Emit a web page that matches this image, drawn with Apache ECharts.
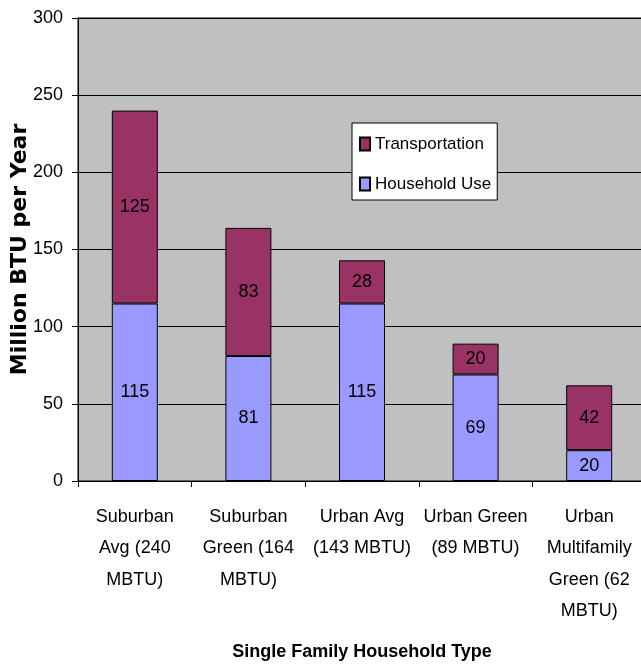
<!DOCTYPE html>
<html>
<head>
<meta charset="utf-8">
<script src="https://cdn.jsdelivr.net/npm/echarts@6/dist/echarts.min.js"></script>
<style>
  html, body { margin: 0; padding: 0; background: #fff; }
  #chart { width: 641px; height: 668px; }
</style>
</head>
<body>
<div id="chart"></div>
<script>
// Household energy use by household type (million BTU per year)
const categories = [
  'Suburban\nAvg (240\nMBTU)',
  'Suburban\nGreen (164\nMBTU)',
  'Urban Avg\n(143 MBTU)',
  'Urban Green\n(89 MBTU)',
  'Urban\nMultifamily\nGreen (62\nMBTU)'
];
const householdUse = [115, 81, 115, 69, 20];
const transportation = [125, 83, 28, 20, 42];
const yTicks = { min: 0, max: 300, step: 50 };

const SANS = "'Liberation Sans', Arial, sans-serif";
const TITLE_Y = "'DejaVu Sans', sans-serif";

const chart = echarts.init(document.getElementById('chart'), null, { renderer: 'canvas' });

const barStyle = (color) => ({ color: color, borderColor: '#000', borderWidth: 1 });
const segLabel = {
  show: true,
  position: 'inside',
  color: '#000',
  fontFamily: SANS,
  fontSize: 18
};

chart.setOption({
  animation: false,
  backgroundColor: '#fff',
  grid: {
    left: 78,
    top: 18,
    right: -5,
    bottom: 187,
    outerBoundsMode: 'none',
    containLabel: false,
    show: true,
    backgroundColor: '#c0c0c0',
    borderColor: '#000',
    borderWidth: 1
  },
  legend: {
    orient: 'vertical',
    left: 352,
    top: 123,
    data: ['Transportation', 'Household Use'],
    backgroundColor: '#fff',
    borderColor: '#000',
    borderWidth: 1,
    padding: [11, 6, 6, 7],
    itemWidth: 10,
    itemHeight: 13,
    itemGap: 20,
    icon: 'rect',
    textStyle: { color: '#000', fontFamily: SANS, fontSize: 17, lineHeight: 20 }
  },
  xAxis: {
    type: 'category',
    data: categories,
    axisLine: { lineStyle: { color: '#000', width: 1 } },
    axisTick: { show: true, length: 6, lineStyle: { color: '#000' } },
    axisLabel: {
      color: '#000',
      fontFamily: SANS,
      fontSize: 18,
      lineHeight: 31.5,
      margin: 20,
      interval: 0
    },
    name: 'Single Family Household Type',
    nameLocation: 'middle',
    nameGap: 162,
    nameMoveOverlap: false,
    nameTextStyle: {
      color: '#000',
      fontFamily: SANS,
      fontWeight: 'bold',
      fontSize: 18
    }
  },
  yAxis: {
    type: 'value',
    min: yTicks.min,
    max: yTicks.max,
    interval: yTicks.step,
    axisLine: { show: true, lineStyle: { color: '#000', width: 1 } },
    axisTick: { show: true, length: 6, lineStyle: { color: '#000' } },
    axisLabel: { color: '#000', fontFamily: SANS, fontSize: 18, margin: 15 },
    splitLine: { show: true, lineStyle: { color: '#000', width: 1 } },
    name: 'Million BTU per Year',
    nameLocation: 'middle',
    nameGap: 47,
    nameMoveOverlap: false,
    nameTextStyle: {
      color: '#000',
      fontFamily: TITLE_Y,
      fontWeight: 'bold',
      fontSize: 22
    }
  },
  series: [
    {
      name: 'Household Use',
      type: 'bar',
      stack: 'total',
      barWidth: 46,
      data: householdUse,
      itemStyle: barStyle('#9999ff'),
      label: segLabel
    },
    {
      name: 'Transportation',
      type: 'bar',
      stack: 'total',
      barWidth: 46,
      data: transportation,
      itemStyle: barStyle('#993366'),
      label: segLabel
    }
  ]
});
</script>
</body>
</html>
